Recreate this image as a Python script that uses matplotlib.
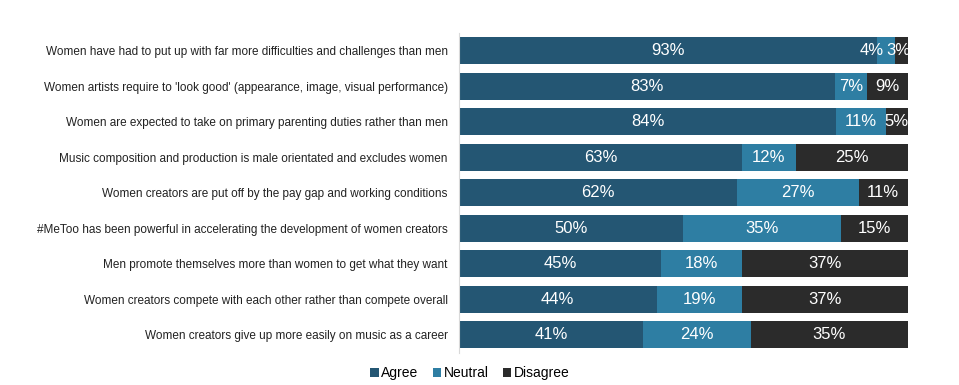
import matplotlib.pyplot as plt
import numpy as np

plt.rcParams['font.family'] = ['Liberation Sans', 'DejaVu Sans']

statements = [
    "Women have had to put up with far more difficulties and challenges than men",
    "Women artists require to 'look good' (appearance, image, visual performance)",
    "Women are expected to take on primary parenting duties rather than men",
    "Music composition and production is male orientated and excludes women",
    "Women creators are put off by the pay gap and working conditions",
    "#MeToo has been powerful in accelerating the development of women creators",
    "Men promote themselves more than women to get what they want",
    "Women creators compete with each other rather than compete overall",
    "Women creators give up more easily on music as a career",
]
agree = [93, 83, 84, 63, 62, 50, 45, 44, 41]
neutral = [4, 7, 11, 12, 27, 35, 18, 19, 24]
disagree = [3, 9, 5, 25, 11, 15, 37, 37, 35]

series = [("Agree", agree, "#245673"),
          ("Neutral", neutral, "#2e7ea3"),
          ("Disagree", disagree, "#2b2b2b")]
# nudge (points) for labels that sit in very narrow segments
narrow_shift = {"Agree": 0, "Neutral": -10, "Disagree": -2}

fig = plt.figure(figsize=(9.59, 3.85), dpi=100)
ax = fig.add_axes([0.4786, 0.084, 0.4682, 0.831])

totals = np.array(agree) + np.array(neutral) + np.array(disagree)
y = np.arange(len(statements))
left = np.zeros(len(statements))
for name, vals, col in series:
    vals = np.array(vals, dtype=float)
    w = vals / totals * 100
    ax.barh(y, w, left=left, height=0.76, color=col, label=name)
    for i in range(len(y)):
        dx = narrow_shift[name] if w[i] < 4.5 else 0
        ax.annotate(f"{int(vals[i])}%", (left[i] + w[i] / 2, y[i]),
                    xytext=(dx, 0), textcoords='offset points',
                    ha='center', va='center', color='white', fontsize=12,
                    annotation_clip=False, clip_on=True)
    left += w

ax.set_xlim(0, 100)
ax.set_ylim(8.5, -0.5)
ax.set_yticks(y)
ax.set_yticklabels(statements, fontsize=8.5, color='#222222')
ax.tick_params(axis='y', length=0, pad=8)
ax.set_xticks([])
for s in ['top', 'right', 'bottom']:
    ax.spines[s].set_visible(False)
ax.spines['left'].set_color('#d9d9d9')
ax.spines['left'].set_linewidth(0.8)

fig.legend(loc='lower center', bbox_to_anchor=(0.49, -0.02), ncol=3,
           frameon=False, fontsize=10, handlelength=0.6, handleheight=0.6,
           handletextpad=0.2, columnspacing=1.0)

fig.savefig("out.png", dpi=100)
